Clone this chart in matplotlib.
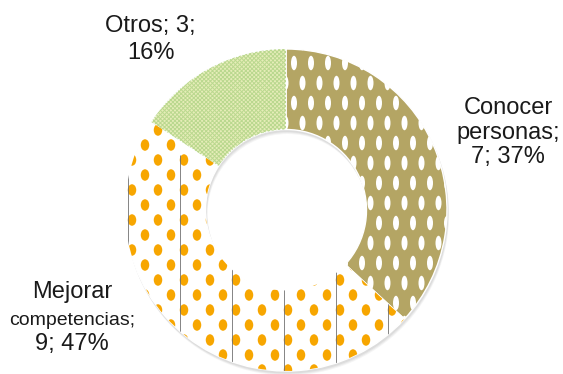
import numpy as np
import matplotlib
matplotlib.use("Agg")
import matplotlib.pyplot as plt
from matplotlib.patches import Wedge, Ellipse
from matplotlib.collections import PatchCollection, LineCollection

# ---- data ----
categories = ["Conocer personas", "Mejorar competencias", "Otros"]
values = [7, 9, 3]
percents = ["37%", "47%", "16%"]

# ---- styling ----
OLIVE = "#B4A564"
ORANGE = "#F7A600"
GREEN_FACE = "#E6EDB8"
GREEN_HATCH = "#BAD88F"

plt.rcParams['font.family'] = ['Liberation Sans', 'DejaVu Sans']
plt.rcParams['hatch.linewidth'] = 0.7

W, H = 563, 374
fig = plt.figure(figsize=(W / 100, H / 100), dpi=100)
ax = fig.add_axes([0, 0, 1, 1])

# pixel geometry of donut
CXP, CYP, RP = 286.0, 210.0, 161.0


def d(xp, yp):
    return (xp - CXP) / RP, (CYP - yp) / RP


def dl(lp):
    return lp / RP


# soft shadow under ring
for off, a in [(4, 0.08), (3, 0.10), (2, 0.12)]:
    sx, sy = d(CXP + off * 0.4, CYP + off)
    ax.add_patch(Wedge((sx, sy), 1.0 + dl(0.5), 0, 360, width=0.5 + dl(1),
                       facecolor="#808080", edgecolor="none", alpha=a, zorder=0.5))

wedges, _ = ax.pie(values, startangle=90, counterclock=False, radius=1.0,
                   colors=[OLIVE, "white", GREEN_FACE],
                   wedgeprops=dict(width=0.5, edgecolor="white", linewidth=1.0))
for w in wedges:
    w.set_zorder(1)

w_con, w_mej, w_otr = wedges

# --- Olive: white vertical ellipses ---
ells = []
for k, yp in enumerate(np.arange(23, 400, 20.0)):
    shift = 8.5 if k % 2 else 0.0
    for xp in np.arange(294 - 17 * 2 + shift, 470, 17.0):
        x, y = d(xp, yp)
        ells.append(Ellipse((x, y), dl(6), dl(14.5)))
pc = PatchCollection(ells, facecolor="white", edgecolor="none", zorder=2)
ax.add_collection(pc)
pc.set_clip_path(w_con)

# --- Mejorar: orange dots on white ---
ells = []
for k, yp in enumerate(np.arange(325 - 15 * 20, 390, 15.0)):
    shift = 13.0 if k % 2 else 0.0
    for xp in np.arange(223 - 26 * 5 + shift, 470, 26.0):
        x, y = d(xp, yp)
        ells.append(Ellipse((x, y), dl(8.5), dl(11.5)))
pc2 = PatchCollection(ells, facecolor=ORANGE, edgecolor="none", zorder=2)
ax.add_collection(pc2)
pc2.set_clip_path(w_mej)

segs = []
for xp in np.arange(128, 400, 52.0):
    segs.append([d(xp, 155), d(xp, 390)])
lc = LineCollection(segs, colors="#707070", linewidths=0.6, zorder=2.1)
ax.add_collection(lc)
lc.set_clip_path(w_mej)

# --- Otros: fine cross hatch ---
hw = Wedge(w_otr.center, w_otr.r, w_otr.theta1, w_otr.theta2, width=w_otr.width,
           facecolor="none", edgecolor=GREEN_HATCH, linewidth=0, hatch="xxxxxxxx",
           zorder=2)
ax.add_patch(hw)

# --- labels ---
big = 17
small = 14
tx = dict(ha="center", va="baseline", color="#1a1a1a")
ax.text(*d(150.5, 32), f"{categories[2]}; {values[2]};", fontsize=big, **tx)
ax.text(*d(150.5, 59), percents[2], fontsize=big, **tx)

ax.text(*d(508, 114), "Conocer", fontsize=big, **tx)
ax.text(*d(508, 139), "personas;", fontsize=big, **tx)
ax.text(*d(508, 163), f"{values[0]}; {percents[0]}", fontsize=big, **tx)

ax.text(*d(72, 298), "Mejorar", fontsize=big, **tx)
ax.text(*d(72, 325), "competencias;", fontsize=small, **tx)
ax.text(*d(72, 350), f"{values[1]}; {percents[1]}", fontsize=big, **tx)

x0, _ = d(0, 0)
x1, _ = d(W, 0)
_, y0 = d(0, H)
_, y1 = d(0, 0)
ax.set_xlim(x0, x1)
ax.set_ylim(y0, y1)
ax.set_aspect("auto")
ax.axis("off")

fig.savefig("out.png", dpi=100)
